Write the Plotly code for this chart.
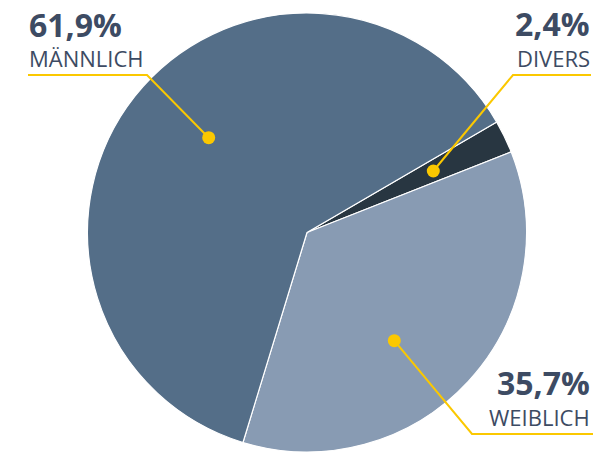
import plotly.graph_objects as go

# Geschlechterverteilung (Anteile in Prozent)
labels = ["Divers", "Weiblich", "Männlich"]
values = [2.4, 35.7, 61.9]
colors = ["#283641", "#889bb3", "#546e88"]

W, H = 610, 452
TEXT = "#3d4b63"
GOLD = "#fbc800"
FONT = "Open Sans"

fig = go.Figure(
    go.Pie(
        labels=labels,
        values=values,
        sort=False,
        direction="clockwise",
        rotation=59.8,
        marker=dict(colors=colors, line=dict(color="white", width=1.2)),
        textinfo="none",
        hoverinfo="label+percent",
        domain=dict(x=[87 / W, 527 / W], y=[0, 1 - 13 / H]),
        showlegend=False,
    )
)


def px(x):
    return x / W


def py(y):
    return 1 - y / H


# Callouts: (label, percent text, text anchor, text x, percent y, name y,
#            leader path in pixels ending at the dot)
callouts = [
    ("MÄNNLICH", "left", 27, 24.5, 57.5, [(28, 75), (147, 75), (208.7, 137.7)]),
    ("DIVERS", "right", 592, 23.5, 57.5, [(591, 75), (513, 75), (433.3, 171)]),
    ("WEIBLICH", "right", 592, 382, 416.5, [(593, 434), (472, 434), (394.3, 340.7)]),
]
pct_text = {"MÄNNLICH": values[2], "DIVERS": values[0], "WEIBLICH": values[1]}

shapes = []
annotations = []
for name, anchor, tx, ypct, yname, path in callouts:
    d = "M " + " L ".join(f"{px(x):.5f},{py(y):.5f}" for x, y in path)
    shapes.append(dict(type="path", xref="paper", yref="paper", path=d,
                       line=dict(color=GOLD, width=2)))
    cx, cy = path[-1]
    r = 6.5
    shapes.append(dict(type="circle", xref="paper", yref="paper",
                       x0=px(cx - r), x1=px(cx + r), y0=py(cy + r), y1=py(cy - r),
                       fillcolor=GOLD, line=dict(width=0)))
    pct = f"{pct_text[name]:.1f}%".replace(".", ",")
    annotations.append(dict(text=f"<b>{pct}</b>", x=px(tx), y=py(ypct),
                            xref="paper", yref="paper", xanchor=anchor, yanchor="middle",
                            showarrow=False, font=dict(family=FONT, size=32, color=TEXT)))
    annotations.append(dict(text=name, x=px(tx), y=py(yname),
                            xref="paper", yref="paper", xanchor=anchor, yanchor="middle",
                            showarrow=False, font=dict(family=FONT, size=22, color=TEXT)))

fig.update_layout(
    width=W,
    height=H,
    margin=dict(l=0, r=0, t=0, b=0),
    paper_bgcolor="white",
    plot_bgcolor="white",
    shapes=shapes,
    annotations=annotations,
)

fig.write_html("out.html")
